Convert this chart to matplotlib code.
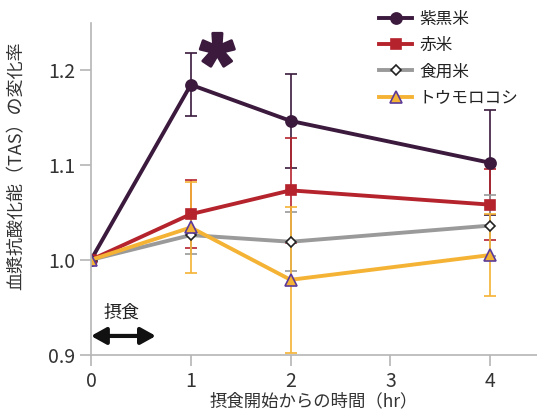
import matplotlib.pyplot as plt
import matplotlib.patheffects as pe
from matplotlib.lines import Line2D

plt.rcParams['font.family'] = ['Noto Sans CJK JP', 'DejaVu Sans']

hours = [0, 1, 2, 4]
names = ['紫黒米', '赤米', '食用米', 'トウモロコシ']
purple = [1.0, 1.184, 1.146, 1.102]
purple_err = [0, 0.033, 0.049, 0.055]
red = [1.0, 1.048, 1.073, 1.058]
red_err = [0, 0.036, 0.055, 0.037]
gray = [1.0, 1.026, 1.019, 1.036]
gray_err = [0, 0.020, 0.031, 0.032]
corn = [1.0, 1.034, 0.979, 1.005]
corn_err = [0, 0.048, 0.077, 0.043]

fig = plt.figure(figsize=(5.37, 4.11), dpi=100)
ax = fig.add_axes([0.1695, 0.1363, 0.8305, 0.808])

styles = [
    (purple, purple_err, '#3b1a3e', 'o', '#3b1a3e', '#3b1a3e', 8),
    (red, red_err, '#b5242d', 's', '#b5242d', '#b5242d', 7.5),
    (gray, gray_err, '#9a9a9a', 'D', 'white', '#222222', 5.5),
    (corn, corn_err, '#f5b335', '^', '#f5b335', '#5b3a9a', 8),
]
handles = []
for (vals, err, col, mk, fc, ec, ms), name in zip(styles, names):
    ax.errorbar(hours, vals, yerr=err, color=col, lw=2.8, elinewidth=1.2,
                capsize=4, capthick=1.2, marker=mk, markersize=ms,
                markerfacecolor=fc, markeredgecolor=ec, markeredgewidth=1.2)
    handles.append(Line2D([], [], color=col, lw=2.8, marker=mk, markersize=ms,
                          markerfacecolor=fc, markeredgecolor=ec,
                          markeredgewidth=1.2, label=name))

ax.set_xlim(0, 4.47)
ax.set_ylim(0.9, 1.249)
ax.set_xticks([0, 1, 2, 3, 4])
ax.set_yticks([0.9, 1.0, 1.1, 1.2])
ax.set_yticklabels(['0.9', '1.0', '1.1', '1.2'])
for s in ['top', 'right']:
    ax.spines[s].set_visible(False)
for s in ['left', 'bottom']:
    ax.spines[s].set_color('#b5b5b5')
    ax.spines[s].set_linewidth(1.2)
ax.tick_params(colors='#b5b5b5', labelcolor='#333333', labelsize=14, length=8, width=1.2)
ax.set_xlabel('摂食開始からの時間（hr）', fontsize=12.5, color='#333333', labelpad=0)
ax.set_ylabel('血漿抗酸化能（TAS）の変化率', fontsize=13, color='#333333')
ax.yaxis.set_label_coords(-0.147, 0.57)

ax.annotate('', xy=(0.0, 0.92), xytext=(0.65, 0.92),
            arrowprops=dict(arrowstyle='<|-|>,head_length=0.9,head_width=0.5',
                            color='#111111', lw=3, shrinkA=0, shrinkB=0),
            annotation_clip=False)
ax.text(0.31, 0.945, '摂食', ha='center', va='center', fontsize=13, color='#222222')
ax.text(1.265, 1.198, '*', ha='center', va='center', fontsize=64,
        fontweight='bold', color='#3b1a3e', family='Liberation Sans',
        path_effects=[pe.withStroke(linewidth=2, foreground='#3b1a3e')])

leg = fig.legend(handles=handles, loc='upper left', bbox_to_anchor=(379 / 537, 1 - 11 / 411),
                 frameon=False, fontsize=12, handlelength=2.0, handletextpad=0.4,
                 labelspacing=0.55, borderpad=0, borderaxespad=0)
for t in leg.get_texts():
    t.set_color('#222222')

fig.savefig('out.png', dpi=100)
